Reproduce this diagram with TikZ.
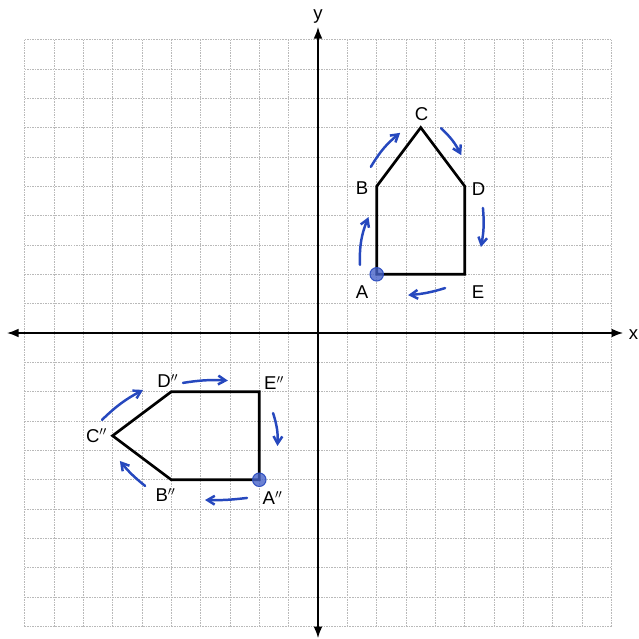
\documentclass[tikz,border=0pt]{standalone}
\usepackage{fontspec}
\setmainfont{Liberation Sans}
\usepackage{tikz}
\usetikzlibrary{arrows.meta,calc}

\definecolor{pen}{RGB}{38,72,190}

\begin{document}
\begin{tikzpicture}[
    gridline/.style={gray!55, line width=0.6pt, dash pattern=on 1.5pt off 1pt},
    axis/.style={{Latex[length=4mm,width=3mm]}-{Latex[length=4mm,width=3mm]}, line width=1.6pt},
    outline/.style={line width=2.6pt, line join=miter},
    lbl/.style={font=\fontsize{18}{21}\selectfont, inner sep=0pt},
    penarr/.style={pen, line width=2.4pt, line cap=round, -{Straight Barb[length=2.5mm,width=3mm]}},
    dot/.style={pen, fill opacity=0.8, draw opacity=0.9, fill=pen!85, line width=1pt}
  ]
    \useasboundingbox (-10.835,-10.426) rectangle (10.903,11.346);

    % grid
    \foreach \k in {-10,...,10} {
      \draw[gridline] (\k,-10) -- (\k,10);
      \draw[gridline] (-10,\k) -- (10,\k);
    }

    % axes
    \draw[axis] (-10.6,0) -- (10.4,0);
    \draw[axis] (0,-10.4) -- (0,10.43);
    \node[lbl] (xlbl) at (10.75,-0.05) {x};
    \node[lbl] (ylbl) at (0,10.8) {y};

    % original figure
    \coordinate (A) at (2,2);
    \coordinate (B) at (2,5);
    \coordinate (C) at (3.5,7);
    \coordinate (D) at (5,5);
    \coordinate (E) at (5,2);
    \draw[outline] (A) -- (B) -- (C) -- (D) -- (E) -- cycle;

    \node[lbl] (la) at (1.5,1.4)   {A};
    \node[lbl] (lb) at (1.5,4.94)  {B};
    \node[lbl] (lc) at (3.53,7.45) {C};
    \node[lbl] (ld) at (5.47,4.9)  {D};
    \node[lbl] (le) at (5.45,1.38) {E};

    % image figure
    \coordinate (A2) at (-2,-5);
    \coordinate (B2) at (-5,-5);
    \coordinate (C2) at (-7,-3.5);
    \coordinate (D2) at (-5,-2);
    \coordinate (E2) at (-2,-2);
    \draw[outline] (A2) -- (B2) -- (C2) -- (D2) -- (E2) -- cycle;

    \node[lbl] (la2) at (-1.55,-5.62) {A$''$};
    \node[lbl] (lb2) at (-5.2,-5.52)  {B$''$};
    \node[lbl] (lc2) at (-7.55,-3.5)  {C$''$};
    \node[lbl] (ld2) at (-5.12,-1.64) {D$''$};
    \node[lbl] (le2) at (-1.5,-1.7)   {E$''$};

    % direction marks
    \draw[dot] (A) circle (0.23);
    \draw[dot] (A2) circle (0.23);

    \draw[penarr] (1.43,2.32) to[bend left=12] (1.72,3.95);
    \draw[penarr] (1.8,5.66) to[bend left=10] (2.8,6.82);
    \draw[penarr] (4.19,6.98) to[bend left=10] (4.88,6.06);
    \draw[penarr] (5.62,4.26) to[bend left=8] (5.55,2.93);
    \draw[penarr] (4.33,1.53) to[bend left=6] (3.07,1.29);

    \draw[penarr] (-7.36,-2.96) to[bend left=8] (-5.96,-1.94);
    \draw[penarr] (-4.6,-1.7) to[bend left=6] (-3.07,-1.62);
    \draw[penarr] (-1.53,-2.73) to[bend left=10] (-1.38,-3.85);
    \draw[penarr] (-2.42,-5.62) to[bend left=4] (-3.85,-5.69);
    \draw[penarr] (-5.89,-5.21) to[bend left=6] (-6.75,-4.36);
\end{tikzpicture}
\end{document}
